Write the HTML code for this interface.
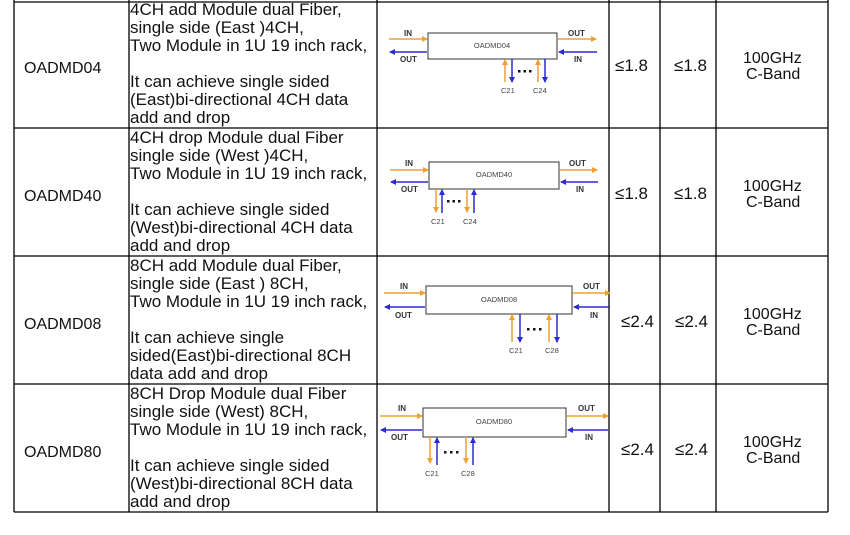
<!DOCTYPE html>
<html><head><meta charset="utf-8"><style>
html,body{margin:0;padding:0;background:#fff;width:850px;height:535px;overflow:hidden}
svg{display:block}
.t{font-family:"Liberation Sans",sans-serif;font-size:16px;fill:#111}
.d{font-family:"Liberation Sans",sans-serif;font-size:17px;fill:#111}
.s{font-family:"Liberation Sans",sans-serif;font-size:7.5px;fill:#444}
.b{font-family:"Liberation Sans",sans-serif;font-size:8px;font-weight:bold;fill:#333}
.o{stroke:#f0a030;stroke-width:1.5;fill:none}
.u{stroke:#2b2bd0;stroke-width:1.5;fill:none}
</style></head><body>
<svg width="850" height="535" viewBox="0 0 850 535">
<defs>
<marker id="ao" markerWidth="6" markerHeight="6" refX="5" refY="3" orient="auto" markerUnits="userSpaceOnUse"><path d="M0,0L6,3L0,6z" fill="#f0a030"/></marker>
<marker id="au" markerWidth="6" markerHeight="6" refX="5" refY="3" orient="auto" markerUnits="userSpaceOnUse"><path d="M0,0L6,3L0,6z" fill="#2b2bd0"/></marker>
</defs>
<g stroke="#000" stroke-width="1.3" fill="none">
<line x1="14" y1="2" x2="828" y2="2"/>
<line x1="14" y1="128" x2="828" y2="128"/>
<line x1="14" y1="256" x2="828" y2="256"/>
<line x1="14" y1="384" x2="828" y2="384"/>
<line x1="14" y1="512" x2="828" y2="512"/>
<line x1="14" y1="0" x2="14" y2="512"/>
<line x1="129" y1="0" x2="129" y2="512"/>
<line x1="377" y1="0" x2="377" y2="512"/>
<line x1="609" y1="0" x2="609" y2="512"/>
<line x1="660" y1="0" x2="660" y2="512"/>
<line x1="716" y1="0" x2="716" y2="512"/>
<line x1="828" y1="0" x2="828" y2="512"/>
</g>

<text class="t" x="24" y="73">OADMD04</text>
<text class="t" x="24" y="201">OADMD40</text>
<text class="t" x="24" y="329">OADMD08</text>
<text class="t" x="24" y="457">OADMD80</text>

<g class="d">
<text x="130" y="15">4CH add Module dual Fiber,</text>
<text x="130" y="33">single side (East )4CH,</text>
<text x="130" y="51">Two Module in 1U 19 inch rack,</text>
<text x="130" y="87">It can achieve single sided</text>
<text x="130" y="105">(East)bi-directional 4CH data</text>
<text x="130" y="123">add and drop</text>

<text x="130" y="143">4CH drop Module dual Fiber</text>
<text x="130" y="161">single side (West )4CH,</text>
<text x="130" y="179">Two Module in 1U 19 inch rack,</text>
<text x="130" y="215">It can achieve single sided</text>
<text x="130" y="233">(West)bi-directional 4CH data</text>
<text x="130" y="251">add and drop</text>

<text x="130" y="271">8CH add Module dual Fiber,</text>
<text x="130" y="289">single side (East ) 8CH,</text>
<text x="130" y="307">Two Module in 1U 19 inch rack,</text>
<text x="130" y="343">It can achieve single</text>
<text x="130" y="361">sided(East)bi-directional 8CH</text>
<text x="130" y="379">data add and drop</text>

<text x="130" y="399">8CH Drop Module dual Fiber</text>
<text x="130" y="417">single side (West) 8CH,</text>
<text x="130" y="435">Two Module in 1U 19 inch rack,</text>
<text x="130" y="471">It can achieve single sided</text>
<text x="130" y="489">(West)bi-directional 8CH data</text>
<text x="130" y="507">add and drop</text>
</g>

<g class="d">
<text x="615" y="71">≤1.8</text><text x="674" y="71">≤1.8</text>
<text x="615" y="199">≤1.8</text><text x="674" y="199">≤1.8</text>
<text x="621" y="327">≤2.4</text><text x="675" y="327">≤2.4</text>
<text x="621" y="455">≤2.4</text><text x="675" y="455">≤2.4</text>
</g>
<g class="t">
<text x="743" y="63">100GHz</text><text x="746" y="79">C-Band</text>
<text x="743" y="191">100GHz</text><text x="746" y="207">C-Band</text>
<text x="743" y="319">100GHz</text><text x="746" y="335">C-Band</text>
<text x="743" y="447">100GHz</text><text x="746" y="463">C-Band</text>
</g>

<!-- Row1 -->
<rect x="428" y="33" width="129" height="26" fill="#fff" stroke="#333" stroke-width="1"/>
<text class="s" x="492" y="48" text-anchor="middle">OADMD04</text>
<line class="o" x1="389" y1="39" x2="427" y2="39" marker-end="url(#ao)"/>
<line class="u" x1="427" y1="52" x2="390" y2="52" marker-end="url(#au)"/>
<line class="o" x1="558" y1="39" x2="596" y2="39" marker-end="url(#ao)"/>
<line class="u" x1="597" y1="52" x2="559" y2="52" marker-end="url(#au)"/>
<text class="b" x="404" y="36">IN</text><text class="b" x="400" y="62">OUT</text>
<text class="b" x="568" y="36">OUT</text><text class="b" x="574" y="62">IN</text>
<line class="o" x1="505" y1="82" x2="505" y2="60" marker-end="url(#ao)"/>
<line class="u" x1="512" y1="59" x2="512" y2="82" marker-end="url(#au)"/>
<line class="o" x1="538" y1="82" x2="538" y2="60" marker-end="url(#ao)"/>
<line class="u" x1="545" y1="59" x2="545" y2="82" marker-end="url(#au)"/>
<g fill="#111"><rect x="518" y="70" width="2.5" height="2.5"/><rect x="523.5" y="70" width="2.5" height="2.5"/><rect x="529" y="70" width="2.5" height="2.5"/></g>
<text class="s" x="501" y="93">C21</text><text class="s" x="533" y="93">C24</text>

<!-- Row2 -->
<rect x="429" y="162" width="130" height="27" fill="#fff" stroke="#333" stroke-width="1"/>
<text class="s" x="494" y="177" text-anchor="middle">OADMD40</text>
<line class="o" x1="390" y1="170" x2="428" y2="170" marker-end="url(#ao)"/>
<line class="u" x1="428" y1="182" x2="391" y2="182" marker-end="url(#au)"/>
<line class="o" x1="560" y1="170" x2="597" y2="170" marker-end="url(#ao)"/>
<line class="u" x1="598" y1="182" x2="561" y2="182" marker-end="url(#au)"/>
<text class="b" x="405" y="166">IN</text><text class="b" x="401" y="192">OUT</text>
<text class="b" x="569" y="166">OUT</text><text class="b" x="576" y="192">IN</text>
<line class="o" x1="436" y1="189" x2="436" y2="212" marker-end="url(#ao)"/>
<line class="u" x1="442" y1="213" x2="442" y2="190" marker-end="url(#au)"/>
<line class="o" x1="467" y1="189" x2="467" y2="212" marker-end="url(#ao)"/>
<line class="u" x1="474" y1="213" x2="474" y2="190" marker-end="url(#au)"/>
<g fill="#111"><rect x="447" y="200" width="2.5" height="2.5"/><rect x="452.5" y="200" width="2.5" height="2.5"/><rect x="458" y="200" width="2.5" height="2.5"/></g>
<text class="s" x="431" y="224">C21</text><text class="s" x="463" y="224">C24</text>

<!-- Row3 -->
<rect x="426" y="286" width="146" height="28" fill="#fff" stroke="#333" stroke-width="1"/>
<text class="s" x="499" y="302" text-anchor="middle">OADMD08</text>
<line class="o" x1="384" y1="293" x2="425" y2="293" marker-end="url(#ao)"/>
<line class="u" x1="425" y1="307" x2="385" y2="307" marker-end="url(#au)"/>
<line class="o" x1="573" y1="293" x2="610" y2="293" marker-end="url(#ao)"/>
<line class="u" x1="610" y1="307" x2="574" y2="307" marker-end="url(#au)"/>
<text class="b" x="400" y="289">IN</text><text class="b" x="395" y="318">OUT</text>
<text class="b" x="583" y="289">OUT</text><text class="b" x="590" y="318">IN</text>
<line class="o" x1="512" y1="342" x2="512" y2="315" marker-end="url(#ao)"/>
<line class="u" x1="520" y1="314" x2="520" y2="342" marker-end="url(#au)"/>
<line class="o" x1="549" y1="342" x2="549" y2="315" marker-end="url(#ao)"/>
<line class="u" x1="557" y1="314" x2="557" y2="342" marker-end="url(#au)"/>
<g fill="#111"><rect x="527" y="328" width="2.5" height="2.5"/><rect x="533" y="328" width="2.5" height="2.5"/><rect x="539" y="328" width="2.5" height="2.5"/></g>
<text class="s" x="509" y="353">C21</text><text class="s" x="545" y="353">C28</text>

<!-- Row4 -->
<rect x="423" y="408" width="143" height="29" fill="#fff" stroke="#333" stroke-width="1"/>
<text class="s" x="494" y="424" text-anchor="middle">OADMD80</text>
<line class="o" x1="380" y1="416" x2="422" y2="416" marker-end="url(#ao)"/>
<line class="u" x1="422" y1="430" x2="381" y2="430" marker-end="url(#au)"/>
<line class="o" x1="567" y1="416" x2="608" y2="416" marker-end="url(#ao)"/>
<line class="u" x1="608" y1="430" x2="568" y2="430" marker-end="url(#au)"/>
<text class="b" x="398" y="411">IN</text><text class="b" x="391" y="440">OUT</text>
<text class="b" x="578" y="411">OUT</text><text class="b" x="585" y="440">IN</text>
<line class="o" x1="430" y1="437" x2="430" y2="463" marker-end="url(#ao)"/>
<line class="u" x1="437" y1="465" x2="437" y2="438" marker-end="url(#au)"/>
<line class="o" x1="466" y1="437" x2="466" y2="463" marker-end="url(#ao)"/>
<line class="u" x1="473" y1="465" x2="473" y2="438" marker-end="url(#au)"/>
<g fill="#111"><rect x="444" y="451" width="2.5" height="2.5"/><rect x="450" y="451" width="2.5" height="2.5"/><rect x="456" y="451" width="2.5" height="2.5"/></g>
<text class="s" x="425" y="476">C21</text><text class="s" x="461" y="476">C28</text>
</svg>
</body></html>
